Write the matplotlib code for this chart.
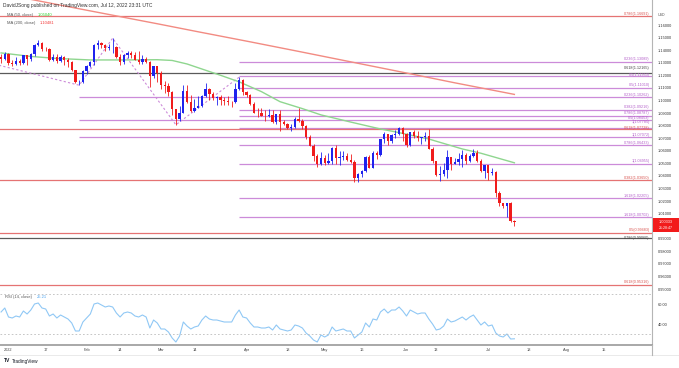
import numpy as np
import pandas as pd
import matplotlib.pyplot as plt
from matplotlib.lines import Line2D
from matplotlib.patches import Rectangle

plt.rcParams['font.family'] = ['Liberation Sans', 'DejaVu Sans']

# -----------------------------
# EUR/USD daily candles
# -----------------------------
dates = pd.bdate_range("2021-12-30", "2022-07-12")

opens = [
    1.1349, 1.1326,
    1.1370, 1.1296, 1.1289, 1.1313, 1.1295, 1.1359, 1.1326, 1.1368, 1.1442, 1.1454, 1.1413,
    1.1409, 1.1325, 1.1344, 1.1311, 1.1344, 1.1325, 1.1302, 1.1241, 1.1144, 1.1146,
    1.1234, 1.1271, 1.1302, 1.1442, 1.1455, 1.1441, 1.1418, 1.1424, 1.1425, 1.1348,
    1.1306, 1.1359, 1.1374, 1.1362, 1.1322, 1.1308, 1.1328, 1.1308, 1.1191, 1.1270,
    1.1220, 1.1125, 1.1118, 1.1064, 1.0930, 1.0854, 1.0903, 1.1075, 1.0984, 1.0912, 1.0942,
    1.0956, 1.1036, 1.1093, 1.1051, 1.1016, 1.1030, 1.1007, 1.0998, 1.0985, 1.0984, 1.1088,
    1.1159,
    1.1067, 1.1046, 1.0971, 1.0904, 1.0903, 1.0878, 1.0877, 1.0888, 1.0827, 1.0889, 1.0826,
    1.0810, 1.0780, 1.0788, 1.0853, 1.0837, 1.0797, 1.0713, 1.0641, 1.0557, 1.0497,
    1.0545, 1.0502, 1.0521, 1.0621, 1.0540, 1.0551, 1.0560, 1.0530, 1.0514, 1.0381, 1.0411,
    1.0436, 1.0550, 1.0464, 1.0585, 1.0563, 1.0690, 1.0734, 1.0679, 1.0729, 1.0733, 1.0780,
    1.0733, 1.0648, 1.0749, 1.0719, 1.0698, 1.0706, 1.0716, 1.0616, 1.0518, 1.0410, 1.0416,
    1.0447, 1.0547, 1.0495, 1.0507, 1.0534, 1.0566, 1.0522, 1.0554, 1.0584, 1.0518, 1.0442,
    1.0484, 1.0425, 1.0427, 1.0265, 1.0181, 1.0160, 1.0186, 1.0038,
]
highs = [
    1.1369, 1.1386,
    1.1376, 1.1323, 1.1346, 1.1330, 1.1364, 1.1363, 1.1375, 1.1450, 1.1482, 1.1466, 1.1429,
    1.1417, 1.1369, 1.1370, 1.1363, 1.1354, 1.1335, 1.1316, 1.1244, 1.1165, 1.1240,
    1.1285, 1.1315, 1.1450, 1.1483, 1.1464, 1.1446, 1.1449, 1.1495, 1.1435, 1.1368,
    1.1367, 1.1395, 1.1395, 1.1386, 1.1395, 1.1360, 1.1345, 1.1314, 1.1274, 1.1271,
    1.1235, 1.1154, 1.1137, 1.1073, 1.0934, 1.0958, 1.1121, 1.1122, 1.1043, 1.1015, 1.1035,
    1.1044, 1.1137, 1.1097, 1.1070, 1.1038, 1.1045, 1.1024, 1.1034, 1.0998, 1.1137, 1.1185,
    1.1170,
    1.1076, 1.1055, 1.0990, 1.0936, 1.0941, 1.0922, 1.0935, 1.0925, 1.0895, 1.0924, 1.0841,
    1.0822, 1.0814, 1.0871, 1.0936, 1.0850, 1.0806, 1.0728, 1.0651, 1.0572, 1.0593,
    1.0567, 1.0580, 1.0630, 1.0642, 1.0594, 1.0594, 1.0578, 1.0577, 1.0525, 1.0423, 1.0446,
    1.0560, 1.0565, 1.0600, 1.0600, 1.0697, 1.0748, 1.0736, 1.0733, 1.0765, 1.0787, 1.0785,
    1.0737, 1.0750, 1.0764, 1.0753, 1.0710, 1.0748, 1.0774, 1.0630, 1.0521, 1.0480, 1.0506,
    1.0602, 1.0553, 1.0543, 1.0582, 1.0605, 1.0582, 1.0570, 1.0615, 1.0606, 1.0531, 1.0487,
    1.0486, 1.0463, 1.0436, 1.0276, 1.0188, 1.0188, 1.0194, 1.0050,
]
lows = [
    1.1300, 1.1318,
    1.1281, 1.1272, 1.1285, 1.1285, 1.1286, 1.1285, 1.1315, 1.1355, 1.1433, 1.1395, 1.1397,
    1.1314, 1.1313, 1.1300, 1.1305, 1.1285, 1.1262, 1.1235, 1.1136, 1.1121, 1.1140,
    1.1211, 1.1265, 1.1281, 1.1410, 1.1418, 1.1392, 1.1400, 1.1375, 1.1341, 1.1280,
    1.1290, 1.1340, 1.1341, 1.1318, 1.1290, 1.1286, 1.1299, 1.1106, 1.1176, 1.1150,
    1.1090, 1.1062, 1.1036, 1.0885, 1.0806, 1.0837, 1.0899, 1.0980, 1.0906, 1.0905, 1.0940,
    1.0948, 1.1029, 1.1006, 1.1002, 1.0962, 1.0962, 1.0965, 1.0965, 1.0945, 1.0979, 1.1082,
    1.1043,
    1.1027, 1.0967, 1.0898, 1.0870, 1.0873, 1.0836, 1.0868, 1.0821, 1.0809, 1.0757, 1.0802,
    1.0772, 1.0760, 1.0784, 1.0826, 1.0770, 1.0696, 1.0636, 1.0516, 1.0470, 1.0490,
    1.0490, 1.0492, 1.0494, 1.0493, 1.0484, 1.0526, 1.0521, 1.0503, 1.0354, 1.0349, 1.0389,
    1.0428, 1.0461, 1.0460, 1.0532, 1.0557, 1.0660, 1.0645, 1.0662, 1.0700, 1.0723, 1.0680,
    1.0627, 1.0637, 1.0705, 1.0680, 1.0653, 1.0678, 1.0611, 1.0506, 1.0398, 1.0359, 1.0398,
    1.0381, 1.0445, 1.0494, 1.0484, 1.0470, 1.0495, 1.0511, 1.0548, 1.0509, 1.0431, 1.0383,
    1.0366, 1.0409, 1.0235, 1.0162, 1.0144, 1.0072, 1.0033, 0.9999,
]
closes = [
    1.1326, 1.1370,
    1.1296, 1.1289, 1.1313, 1.1295, 1.1359, 1.1326, 1.1368, 1.1442, 1.1454, 1.1413, 1.1409,
    1.1325, 1.1344, 1.1311, 1.1344, 1.1325, 1.1302, 1.1241, 1.1144, 1.1146, 1.1234,
    1.1271, 1.1302, 1.1442, 1.1455, 1.1441, 1.1418, 1.1424, 1.1425, 1.1348, 1.1306,
    1.1359, 1.1374, 1.1362, 1.1322, 1.1308, 1.1328, 1.1308, 1.1191, 1.1270, 1.1220,
    1.1125, 1.1118, 1.1064, 1.0930, 1.0854, 1.0903, 1.1075, 1.0984, 1.0912, 1.0942, 1.0956,
    1.1036, 1.1093, 1.1051, 1.1016, 1.1030, 1.1007, 1.0998, 1.0985, 1.0984, 1.1088, 1.1159,
    1.1067,
    1.1046, 1.0971, 1.0904, 1.0903, 1.0878, 1.0877, 1.0888, 1.0827, 1.0889, 1.0826, 1.0810,
    1.0780, 1.0788, 1.0853, 1.0837, 1.0797, 1.0713, 1.0641, 1.0557, 1.0497, 1.0545,
    1.0502, 1.0521, 1.0621, 1.0540, 1.0551, 1.0560, 1.0530, 1.0514, 1.0381, 1.0411, 1.0436,
    1.0550, 1.0464, 1.0585, 1.0563, 1.0690, 1.0734, 1.0679, 1.0729, 1.0733, 1.0780, 1.0733,
    1.0648, 1.0749, 1.0719, 1.0698, 1.0706, 1.0716, 1.0616, 1.0518, 1.0410, 1.0416, 1.0447,
    1.0547, 1.0495, 1.0507, 1.0534, 1.0566, 1.0522, 1.0554, 1.0584, 1.0518, 1.0442, 1.0484,
    1.0425, 1.0427, 1.0265, 1.0181, 1.0160, 1.0186, 1.0038, 1.0033,
]

rsi = [
    52, 56,
    47, 46, 48, 47, 53, 50, 54, 60, 61, 56, 55, 48, 50, 46, 49, 47, 45, 41, 33, 33, 42,
    46, 50, 60, 61, 59, 57, 58, 57, 51, 47, 51, 52, 51, 48, 47, 49, 47, 36, 44, 41,
    35, 35, 32, 26, 22, 28, 42, 38, 35, 37, 38, 44, 48, 45, 44, 44, 43, 42, 42, 42, 49, 54, 47,
    46, 41, 37, 37, 36, 36, 37, 34, 39, 35, 34, 33, 34, 39, 38, 36, 31, 28, 24, 22, 29,
    27, 29, 37, 33, 34, 35, 33, 33, 26, 29, 32, 41, 37, 45, 44, 52, 55, 51, 54, 54, 57, 53,
    48, 54, 52, 50, 51, 51, 45, 40, 34, 35, 38, 45, 42, 43, 45, 47, 44, 47, 49, 44, 39, 42,
    38, 39, 31, 28, 27, 30, 25, 25.21,
]

# moving averages, sampled along the drawn lines
ma50_dates = ["2021-12-30", "2022-01-11", "2022-01-20", "2022-02-02", "2022-02-15",
              "2022-02-28", "2022-03-04", "2022-03-10", "2022-03-16", "2022-03-23",
              "2022-03-30", "2022-04-07", "2022-04-14", "2022-04-22", "2022-04-29",
              "2022-05-11", "2022-05-23", "2022-05-27", "2022-06-09", "2022-06-22",
              "2022-06-29", "2022-07-12"]
ma50_vals = [1.1378, 1.1350, 1.1334, 1.1322, 1.1322, 1.1324, 1.1318, 1.1290, 1.1250,
             1.1200, 1.1148, 1.1070, 1.0990, 1.0935, 1.0885, 1.0828, 1.0773, 1.0750,
             1.0693, 1.0614, 1.0580, 1.0504]

ma200_dates = ["2021-12-30", "2022-01-24", "2022-02-07", "2022-02-28", "2022-03-15",
               "2022-04-04", "2022-04-21", "2022-05-11", "2022-05-30", "2022-06-20",
               "2022-07-12"]
ma200_vals = [1.1850, 1.1752, 1.1695, 1.1610, 1.1546, 1.1466, 1.1390, 1.1307, 1.1230,
              1.1140, 1.1048]

# fib / level lines: price, label, colour group, first date
fib_prices = [1.16691, 1.13089, 1.12165, 1.11953, 1.11010, 1.10262, 1.09216, 1.08787,
              1.08453, 1.07785, 1.07728, 1.07072, 1.06433, 1.04955, 1.03650, 1.02205,
              1.00702, 0.99483, 0.99060, 0.95316]
fib_labels = ["0.786(1.16691)", "0.236(1.13089)", "0.618(1.12165)", "0.5(1.11953)",
              "0.5(1.11010)", "0.236(1.10262)", "0.382(1.09216)", "0.786(1.08787)",
              "0.5(1.08453)", "1(1.07785)", "0.618(1.07728)", "1(1.07072)",
              "0.786(1.06433)", "1(1.04955)", "0.382(1.03650)", "1.618(1.02205)",
              "1.618(1.00702)", "0.5(0.99483)", "0.786(0.99060)", "0.618(0.95316)"]
fib_kind = ["red", "purple", "gray", "purple", "purple", "purple", "purple", "purple",
            "purple", "purple", "red", "purple", "purple", "purple", "red", "purple",
            "purple", "red", "gray", "red"]
fib_start = ["2021-12-29", "2022-03-30", "2021-12-29", "2022-03-30", "2022-03-30",
             "2022-01-28", "2022-03-30", "2022-03-30", "2022-01-28", "2022-03-30",
             "2021-12-29", "2022-01-28", "2022-03-30", "2022-03-30", "2021-12-29",
             "2022-03-30", "2022-03-30", "2021-12-29", "2021-12-29", "2021-12-29"]
# small vertical nudge of a label (in price units) where two labels would collide
fib_nudge = [0, 0, 0.0022, -0.0012, 0, 0, 0.0006, 0, -0.0006, 0.0030, -0.0012, 0,
             0, 0, 0, 0, 0, 0.0004, -0.0020, 0]

# dashed swing line
swing_dates = ["2021-12-29", "2022-01-28", "2022-02-10", "2022-03-07", "2022-03-30"]
swing_prices = [1.1283, 1.1121, 1.1495, 1.0806, 1.1185]

tick_dates = ["2022-01-03", "2022-01-17", "2022-02-01", "2022-02-14", "2022-03-01",
              "2022-03-14", "2022-04-01", "2022-04-18", "2022-05-02", "2022-05-16",
              "2022-06-01", "2022-06-13", "2022-07-01", "2022-07-18", "2022-08-01",
              "2022-08-15"]
tick_labels = ["2022", "17", "Feb", "14", "Mar", "14", "Apr", "18", "May", "16",
               "Jun", "13", "Jul", "18", "Aug", "15"]


def pos(d):
    return np.busday_count("2022-01-03", d)


x = np.array([pos(d.strftime("%Y-%m-%d")) for d in dates])
o, h, l, c = map(np.array, (opens, highs, lows, closes))

UP, DN = "#1f22ee", "#f01c1c"
FIB_COL = {"red": "#e57373", "purple": "#cc8bd9", "gray": "#5a5a5a"}
TXT_COL = {"red": "#d9534f", "purple": "#b45fca", "gray": "#444444"}

W, H = 679, 368
fig = plt.figure(figsize=(W / 100, H / 100), dpi=100)
ax = fig.add_axes([0, 1 - 291 / H, 652 / W, 291 / H])
ax2 = fig.add_axes([0, 1 - 345 / H, 652 / W, 54 / H])

XL = (-2.285, 173.0)
ax.set_xlim(*XL)
ax.set_ylim(0.94841, 1.17989)

# level lines
for p, lab, k, s, dy in zip(fib_prices, fib_labels, fib_kind, fib_start, fib_nudge):
    ax.hlines(p, pos(s), XL[1], color=FIB_COL[k], lw=0.9, zorder=1)
    ax.text(XL[1] - 0.6, p + 0.0005 + dy, lab, ha="right", va="bottom", fontsize=2.7,
            color=TXT_COL[k], zorder=6)

ax.plot([pos(d) for d in swing_dates], swing_prices, color="#cc8bd9", lw=0.8,
        ls=(0, (2, 2)), zorder=2)

# moving averages
ax.plot([pos(d) for d in ma200_dates], ma200_vals, color="#f28b82", lw=1.0, zorder=2)
ax.plot([pos(d) for d in ma50_dates], ma50_vals, color="#8fd68f", lw=1.0, zorder=2)

# candles
col = np.where(c >= o, UP, DN)
ax.vlines(x, l, h, colors=col, lw=0.6, zorder=3)
body = np.maximum(np.abs(c - o), 0.0001)
ax.bar(x, body, bottom=np.minimum(o, c), width=0.62, color=col, lw=0, zorder=4)

ticks = np.round(np.arange(0.95, 1.1601, 0.01), 2)
ax.yaxis.tick_right()
ax.set_yticks(ticks)
ax.set_yticklabels([f"{t:.5f}" for t in ticks])
ax.tick_params(axis="y", length=0, pad=4, labelsize=2.8, labelcolor="#333333")
ax.set_xticks([])
for sp in ["top", "left", "bottom"]:
    ax.spines[sp].set_visible(False)
ax.spines["right"].set_color("#b5b5b5")
ax.spines["right"].set_linewidth(0.8)
ax.axhline(ax.get_ylim()[0], color="#e3e3e3", lw=0.8)

# legend text
fig.text(3 / W, 1 - 5 / H, "DavidJSong published on TradingView.com, Jul 12, 2022 23:31 UTC",
         fontsize=3.5, color="#333333", va="center")
fig.text(7 / W, 1 - 15 / H, "MA (50, close)", fontsize=3, color="#555555", va="center")
fig.text(38 / W, 1 - 15 / H, "1.05040", fontsize=3, color="#2fd12f", va="center")
fig.text(7 / W, 1 - 23 / H, "MA (200, close)", fontsize=3, color="#555555", va="center")
fig.text(40 / W, 1 - 23 / H, "1.10481", fontsize=3, color="#f23b3b", va="center")
fig.text(658 / W, 1 - 15 / H, "USD", fontsize=2.6, color="#555555", va="center")

# last price box
fig.add_artist(Rectangle((653 / W, 1 - 232 / H), 26 / W, 14 / H,
                         transform=fig.transFigure, color="#f21b1b", lw=0))
fig.text(666 / W, 1 - 222 / H, "1.00333", fontsize=2.8, color="white", ha="center", va="center")
fig.text(666 / W, 1 - 228 / H, "21:28:47", fontsize=2.6, color="white", ha="center", va="center")

# RSI panel
ax2.set_xlim(*XL)
ax2.set_ylim(19, 73)
ax2.plot(x, rsi, color="#90c8f5", lw=0.8)
for lvl in (70, 30):
    ax2.axhline(lvl, color="#bdbdbd", lw=0.6, ls=(0, (2, 2.5)))
ax2.yaxis.tick_right()
ax2.set_yticks([60, 40])
ax2.set_yticklabels(["60.00", "40.00"])
ax2.tick_params(axis="y", length=0, pad=4, labelsize=2.8, labelcolor="#333333")
ax2.set_xticks([pos(d) for d in tick_dates])
ax2.set_xticklabels(tick_labels)
ax2.tick_params(axis="x", length=0, pad=2.2, labelsize=2.8, labelcolor="#444444")
for sp in ["top", "left"]:
    ax2.spines[sp].set_visible(False)
ax2.spines["right"].set_color("#b5b5b5")
ax2.spines["right"].set_linewidth(0.8)
ax2.spines["bottom"].set_color("#9a9a9a")
ax2.spines["bottom"].set_linewidth(1.2)
fig.text(5 / W, 1 - 297 / H, "RSI (14, close)", fontsize=3, color="#555555", va="center")
fig.text(37 / W, 1 - 297 / H, "25.21", fontsize=3, color="#4aa3f0", va="center")

fig.add_artist(Line2D([0, 1], [1 - 355 / H] * 2, transform=fig.transFigure,
                      color="#e6e6e6", lw=0.6))
fig.add_artist(Line2D([652 / W] * 2, [1 - 355 / H, 1 - 345 / H], transform=fig.transFigure,
                      color="#b5b5b5", lw=0.8))

fig.text(4 / W, 1 - 361 / H, "TV", fontsize=3.6, color="#131722", weight="bold", va="center")
fig.text(12 / W, 1 - 361 / H, "TradingView", fontsize=3.4, color="#131722", va="center")

fig.savefig("out.png", dpi=100)
